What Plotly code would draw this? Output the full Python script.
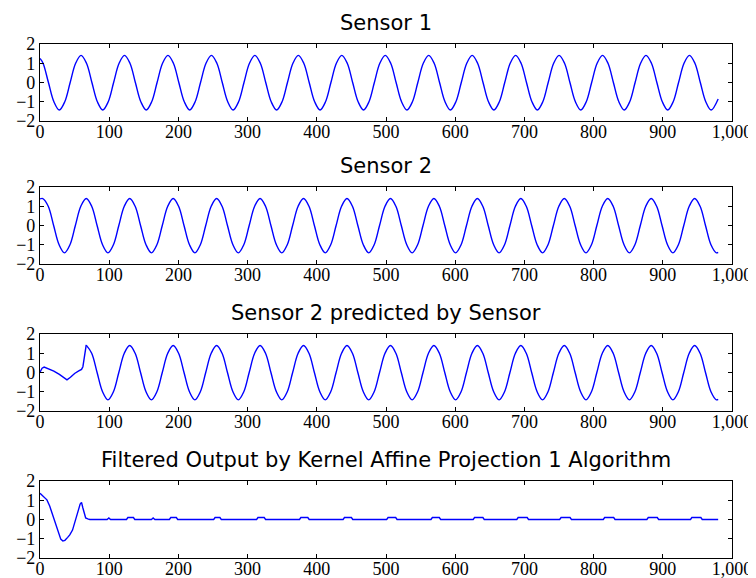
import plotly.graph_objects as go

# ---------------- data ----------------
titles = ["Sensor 1", "Sensor 2", "Sensor 2 predicted by Sensor",
          "Filtered Output by Kernel Affine Projection 1 Algorithm"]

x_ticks = [0, 100, 200, 300, 400, 500, 600, 700, 800, 900, 1000]
y_ticks = [-2, -1, 0, 1, 2]

s1_x = [0, 4.4, 12.2, 20.1, 27.9, 35.8, 43.6, 51.5, 59.3, 67.2, 75.0, 82.9, 90.7, 98.6,
        106.4, 114.3, 122.1, 130.0, 137.8, 145.7, 153.5, 161.4, 169.2, 177.1, 184.9,
        192.8, 200.6, 208.5, 216.3, 224.2, 232.0, 239.9, 247.7, 255.6, 263.4, 271.3,
        279.1, 287.0, 294.8, 302.7, 310.5, 318.4, 326.2, 334.1, 341.9, 349.8, 357.6,
        365.5, 373.3, 381.2, 389.0, 396.9, 404.7, 412.6, 420.4, 428.3, 436.1, 444.0,
        451.8, 459.7, 467.5, 475.4, 483.2, 491.1, 498.9, 506.8, 514.6, 522.5, 530.3,
        538.2, 546.0, 553.9, 561.7, 569.6, 577.4, 585.3, 593.1, 601.0, 608.8, 616.7,
        624.5, 632.4, 640.2, 648.1, 655.9, 663.8, 671.6, 679.5, 687.3, 695.2, 703.0,
        710.9, 718.7, 726.6, 734.4, 742.3, 750.1, 758.0, 765.8, 773.7, 781.5, 789.4,
        797.2, 805.1, 812.9, 820.8, 828.6, 836.5, 844.3, 852.2, 860.0, 867.9, 875.7,
        883.6, 891.4, 899.3, 907.1, 915.0, 922.8, 930.7, 938.5, 946.4, 954.2, 962.1,
        969.9, 980]
s1_y = [1.25, 1.0, 0,
        -1.0, -1.43, -1.0, 0, 1.0, 1.41, 1.0, 0,
        -1.0, -1.43, -1.0, 0, 1.0, 1.41, 1.0, 0,
        -1.0, -1.43, -1.0, 0, 1.0, 1.41, 1.0, 0,
        -1.0, -1.43, -1.0, 0, 1.0, 1.41, 1.0, 0,
        -1.0, -1.43, -1.0, 0, 1.0, 1.41, 1.0, 0,
        -1.0, -1.43, -1.0, 0, 1.0, 1.41, 1.0, 0,
        -1.0, -1.43, -1.0, 0, 1.0, 1.41, 1.0, 0,
        -1.0, -1.43, -1.0, 0, 1.0, 1.41, 1.0, 0,
        -1.0, -1.43, -1.0, 0, 1.0, 1.41, 1.0, 0,
        -1.0, -1.43, -1.0, 0, 1.0, 1.41, 1.0, 0,
        -1.0, -1.43, -1.0, 0, 1.0, 1.41, 1.0, 0,
        -1.0, -1.43, -1.0, 0, 1.0, 1.41, 1.0, 0,
        -1.0, -1.43, -1.0, 0, 1.0, 1.41, 1.0, 0,
        -1.0, -1.43, -1.0, 0, 1.0, 1.41, 1.0, 0,
        -1.0, -1.43, -1.0, 0, 1.0, 1.41, 1.0, 0,
        -1.0, -1.43, -0.86]

s2_x = [0, 4.0, 11.9, 19.7, 27.6, 35.4, 43.3, 51.1, 59.0, 66.8, 74.7, 82.5, 90.4, 98.2,
        106.1, 113.9, 121.8, 129.6, 137.5, 145.3, 153.2, 161.0, 168.9, 176.7, 184.6,
        192.4, 200.3, 208.1, 216.0, 223.8, 231.7, 239.5, 247.4, 255.2, 263.1, 270.9,
        278.8, 286.6, 294.5, 302.3, 310.2, 318.0, 325.9, 333.7, 341.6, 349.4, 357.3,
        365.1, 373.0, 380.8, 388.7, 396.5, 404.4, 412.2, 420.1, 427.9, 435.8, 443.6,
        451.5, 459.3, 467.2, 475.0, 482.9, 490.7, 498.6, 506.4, 514.3, 522.1, 530.0,
        537.8, 545.7, 553.5, 561.4, 569.2, 577.1, 584.9, 592.8, 600.6, 608.5, 616.3,
        624.2, 632.0, 639.9, 647.7, 655.6, 663.4, 671.3, 679.1, 687.0, 694.8, 702.7,
        710.5, 718.4, 726.2, 734.1, 741.9, 749.8, 757.6, 765.5, 773.3, 781.2, 789.0,
        796.9, 804.7, 812.6, 820.4, 828.3, 836.1, 844.0, 851.8, 859.7, 867.5, 875.4,
        883.2, 891.1, 898.9, 906.8, 914.6, 922.5, 930.3, 938.2, 946.0, 953.9, 961.7,
        969.6, 977.4, 980]
s2_y = [1.38,
        1.40, 1.0, 0, -1.0, -1.42, -1.0, 0, 1.0,
        1.40, 1.0, 0, -1.0, -1.42, -1.0, 0, 1.0,
        1.40, 1.0, 0, -1.0, -1.42, -1.0, 0, 1.0,
        1.40, 1.0, 0, -1.0, -1.42, -1.0, 0, 1.0,
        1.40, 1.0, 0, -1.0, -1.42, -1.0, 0, 1.0,
        1.40, 1.0, 0, -1.0, -1.42, -1.0, 0, 1.0,
        1.40, 1.0, 0, -1.0, -1.42, -1.0, 0, 1.0,
        1.40, 1.0, 0, -1.0, -1.42, -1.0, 0, 1.0,
        1.40, 1.0, 0, -1.0, -1.42, -1.0, 0, 1.0,
        1.40, 1.0, 0, -1.0, -1.42, -1.0, 0, 1.0,
        1.40, 1.0, 0, -1.0, -1.42, -1.0, 0, 1.0,
        1.40, 1.0, 0, -1.0, -1.42, -1.0, 0, 1.0,
        1.40, 1.0, 0, -1.0, -1.42, -1.0, 0, 1.0,
        1.40, 1.0, 0, -1.0, -1.42, -1.0, 0, 1.0,
        1.40, 1.0, 0, -1.0, -1.42, -1.0, 0, 1.0,
        1.40, 1.0, 0, -1.0, -1.42, -1.40]

# predicted: transient start, then follows sensor 2
s3_head_x = [0, 3, 6, 12, 20, 28, 34, 39, 44, 50, 56, 60, 62, 64.5, 66.8]
s3_head_y = [0.02, 0.22, 0.28, 0.2, 0.07, -0.1, -0.25, -0.38, -0.25, -0.05, 0.08, 0.16, 0.3, 0.95, 1.44]
s3_tail_x = s2_x[9:]
s3_tail_y = [1.42] + s2_y[10:]

# filtered output
s4_x = [0, 3, 7, 10, 14, 19, 23, 27, 30, 33, 36, 40, 43, 47, 50, 53, 56, 58, 60, 62, 64,
        66, 69, 72,
        97, 99.5, 102, 125, 127, 135, 137, 161, 163.5, 166, 187, 189, 197, 199,
        251, 253, 260, 262, 313, 315, 324, 326, 375, 377, 387, 389, 438, 440, 450, 452,
        501, 503, 514, 516, 565, 567, 577, 579, 626, 628, 640, 642, 689, 691, 704, 706,
        751, 753, 766, 768, 814, 816, 829, 831, 877, 879, 892, 894, 940, 942, 955, 957,
        980]
s4_y = [1.36, 1.25, 1.15, 1.02, 0.7, 0.15, -0.35, -0.78, -1.02, -1.12, -1.08, -0.93,
        -0.8, -0.55, -0.22, 0.15, 0.55, 0.8, 0.89, 0.6, 0.25, 0.08, 0.03, 0.0,
        0.0, 0.08, 0.0, 0.0, 0.1, 0.1, 0.0, 0.0, 0.08, 0.0, 0.0, 0.1, 0.1, 0.0,
        0.0, 0.1, 0.1, 0.0, 0.0, 0.1, 0.1, 0.0, 0.0, 0.1, 0.1, 0.0, 0.0, 0.1, 0.1, 0.0,
        0.0, 0.1, 0.1, 0.0, 0.0, 0.1, 0.1, 0.0, 0.0, 0.1, 0.1, 0.0, 0.0, 0.1, 0.1, 0.0,
        0.0, 0.1, 0.1, 0.0, 0.0, 0.1, 0.1, 0.0, 0.0, 0.1, 0.1, 0.0, 0.0, 0.1, 0.1, 0.0,
        0.0]

# ---------------- figure ----------------
# the page body adds an 8px offset, so the figure is laid out in a 748x570 box
OFF = 8
W, H = 748, 570
LINE = "#0000ff"
tick_font = dict(family="Liberation Serif, DejaVu Serif, serif", size=18, color="black")
title_font = dict(family="DejaVu Sans, sans-serif", size=21, color="black")

# vertical pixel spans (top, bottom) of each panel in the window
spans = [(44, 121), (187, 264), (334, 411), (481, 558)]
domains = [[1 - (b - OFF) / H, 1 - (t - OFF) / H] for (t, b) in spans]

fig = go.Figure()

def add(x, y, row, shape="spline"):
    sfx = "" if row == 1 else str(row)
    fig.add_trace(go.Scatter(x=x, y=y, mode="lines", xaxis="x" + sfx, yaxis="y" + sfx,
                             line=dict(color=LINE, width=1.4, shape=shape),
                             showlegend=False, hoverinfo="skip"))

add(s1_x, s1_y, 1)
add(s2_x, s2_y, 2)
add(s3_head_x, s3_head_y, 3, shape="linear")
add(s3_tail_x, s3_tail_y, 3)
add(s4_x, s4_y, 4, shape="linear")

# plot area spans window x 40..732
layout = dict(width=W, height=H,
              margin=dict(l=40 - OFF, r=W - (732 - OFF), t=0, b=0, autoexpand=False),
              paper_bgcolor="white", plot_bgcolor="white", showlegend=False)
annotations = []
for i in range(4):
    sfx = "" if i == 0 else str(i + 1)
    layout["xaxis" + sfx] = dict(
        domain=[0, 1], anchor="y" + sfx, range=[0, 1000], automargin=False,
        tickvals=x_ticks, tickformat=",d", ticks="inside", ticklen=4,
        ticklabelstandoff=-6,
        tickcolor="black", showline=True, linecolor="black", linewidth=1.2,
        mirror="allticks", showgrid=False, zeroline=False, tickfont=tick_font)
    layout["yaxis" + sfx] = dict(
        domain=domains[i], anchor="x" + sfx, range=[-2, 2], automargin=False,
        tickvals=y_ticks, ticks="inside", ticklen=4,
        tickcolor="black", showline=True, linecolor="black", linewidth=1.2,
        mirror="allticks", showgrid=False, zeroline=False, tickfont=tick_font)
    annotations.append(dict(text=titles[i], xref="paper", yref="paper",
                            x=0.5, y=domains[i][1], xanchor="center",
                            yanchor="bottom", yshift=7, showarrow=False,
                            font=title_font))
layout["annotations"] = annotations
fig.update_layout(**layout)

fig.write_html("out.html")
